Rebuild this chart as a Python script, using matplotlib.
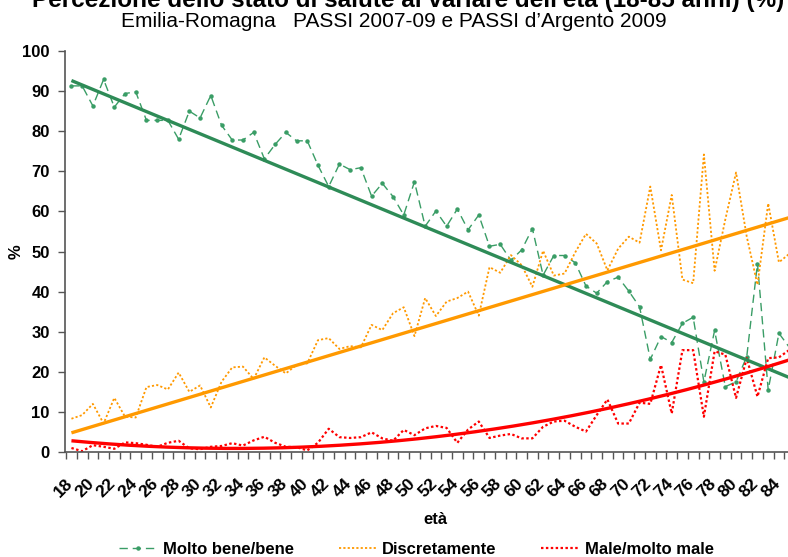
import numpy as np
import matplotlib
matplotlib.use("Agg")
import matplotlib.pyplot as plt

plt.rcParams['font.family'] = ['Liberation Sans', 'DejaVu Sans']

ages = list(range(18, 86))

molto_bene = [91.3, 91.3, 86.3, 92.9, 86.0, 89.4, 89.8, 82.7, 82.7, 82.7,
              78.0, 85.0, 83.3, 88.9, 81.5, 77.8, 77.8, 79.7, 73.1, 76.7,
              79.7, 77.6, 77.6, 71.5, 66.2, 71.8, 70.4, 70.9, 63.8, 67.0,
              63.7, 59.1, 67.4, 56.3, 60.1, 56.3, 60.6, 55.4, 59.1, 51.3,
              51.8, 47.8, 50.4, 55.7, 44.1, 49.0, 49.0, 47.2, 41.4, 39.6,
              42.5, 43.6, 40.1, 36.2, 23.1, 28.8, 27.3, 32.1, 33.6, 17.5,
              30.3, 16.3, 17.5, 23.8, 47.0, 15.5, 29.6, 26.0]

discretamente = [8.3, 9.2, 12.0, 7.1, 13.5, 8.8, 8.6, 16.2, 16.7, 15.6,
                 19.8, 15.0, 16.6, 11.1, 17.5, 21.1, 21.3, 18.2, 23.6, 21.5,
                 19.6, 21.7, 22.1, 27.9, 28.4, 25.7, 26.4, 26.1, 31.7, 30.4,
                 34.6, 36.1, 28.9, 38.4, 33.9, 37.5, 38.4, 40.0, 34.0, 46.1,
                 44.7, 49.1, 46.6, 41.2, 50.2, 44.0, 44.5, 49.8, 54.4, 52.0,
                 45.3, 50.7, 53.7, 52.2, 66.2, 50.3, 64.1, 43.0, 42.1, 74.2,
                 45.2, 58.0, 69.7, 53.7, 41.7, 62.0, 47.3, 49.5]

male = [1.0, 0.2, 1.7, 1.3, 0.8, 2.4, 2.2, 1.8, 1.3, 2.3,
        2.8, 0.9, 0.7, 1.3, 1.5, 2.2, 1.6, 2.9, 3.8, 2.3,
        1.3, 1.2, 0.4, 2.3, 5.8, 3.7, 3.5, 3.7, 4.9, 3.4,
        2.8, 5.5, 4.2, 5.9, 6.5, 6.0, 2.3, 5.6, 7.6, 3.5,
        4.1, 4.5, 3.4, 3.4, 6.3, 7.6, 7.8, 6.3, 5.1, 9.2,
        13.1, 7.1, 7.1, 12.3, 12.0, 21.7, 9.6, 25.4, 25.4, 8.8,
        25.1, 24.3, 13.5, 23.4, 13.8, 23.4, 23.6, 25.5]

# trend lines (values at ages 18, 51, 85)
trend_ages = [18, 51, 85]
trend_molto_bene = [92.6, 56.2, 18.5]
trend_discretamente = [4.8, 31.2, 58.5]
trend_male = [2.8, 3.5, 23.0]

series_names = ["Molto bene/bene", "Discretamente", "Male/molto male"]
tick_ages = list(range(18, 86, 2))
yticks = list(range(0, 101, 10))

title = "Percezione dello stato di salute al variare dell'età (18-85 anni) (%)"
subtitle = "Emilia-Romagna   PASSI 2007-09 e PASSI d\u2019Argento 2009"

W, H = 788, 557
fig = plt.figure(figsize=(W / 100, H / 100), dpi=100)
ax = fig.add_axes([65 / W, 1 - 452 / H, 730 / W, 401 / H])

x = np.array(ages, dtype=float)
g_col, g_trend = '#3a9d66', '#2e8b57'
o_col = '#ff9900'
r_col = '#ff0000'

lg, = ax.plot(x, molto_bene, color=g_col, lw=1.0, dashes=(6, 3.5),
              marker='o', ms=2.2, mec=g_col, mfc=g_col)
lo, = ax.plot(x, discretamente, color=o_col, lw=1.3, dashes=(1.2, 1.2))
lr, = ax.plot(x, male, color=r_col, lw=1.6, dashes=(1.1, 1.1))

xs = np.linspace(x[0], x[-1], 300)
pg = np.polyfit(trend_ages, trend_molto_bene, 1)
po = np.polyfit(trend_ages, trend_discretamente, 1)
pr = np.polyfit(trend_ages, trend_male, 2)
ax.plot(xs, np.polyval(pg, xs), color=g_trend, lw=2.4, solid_capstyle='butt')
ax.plot(xs, np.polyval(po, xs), color=o_col, lw=2.4, solid_capstyle='butt')
ax.plot(xs, np.polyval(pr, xs), color=r_col, lw=2.4, solid_capstyle='butt')

ax.set_xlim(17.5, 85.5)
ax.set_ylim(0, 100)
ax.set_yticks(yticks)
ax.set_yticklabels([str(v) for v in yticks], fontsize=12, fontweight='bold')
label_shift = 0.6
ax.set_xticks([a - label_shift for a in tick_ages])
ax.set_xticklabels([str(a) for a in tick_ages], fontsize=12.5, fontweight='bold',
                   rotation=45, ha='right', va='top', rotation_mode='anchor')
ax.set_xticks(np.arange(17.5, 86, 1.0), minor=True)
ax.tick_params(axis='x', which='major', length=0, pad=17)
ax.tick_params(axis='x', which='minor', length=5, width=1, color='#555555', direction='out')
ax.tick_params(axis='y', length=5, width=1, color='#555555', direction='out', pad=6)

for s in ['top', 'right']:
    ax.spines[s].set_visible(False)
for s in ['left', 'bottom']:
    ax.spines[s].set_color('#555555')
    ax.spines[s].set_linewidth(1.2)

ax.set_xlabel('età', fontsize=12, fontweight='bold')
ax.xaxis.set_label_coords(0.507, -0.150)
ax.set_ylabel('%', fontsize=12, fontweight='bold')
ax.yaxis.set_label_coords(-0.056, 0.5)

fig.text(0.518, 1 - 7 / H, title, ha='center', va='baseline', fontsize=17.5, fontweight='bold')
fig.text(0.500, 1 - 27 / H, subtitle, ha='center', va='baseline', fontsize=15)

fig.legend([lg, lo, lr], series_names, loc='lower center', bbox_to_anchor=(0.5286, -0.027),
           ncol=3, frameon=False, prop={'weight': 'bold', 'size': 12},
           handlelength=2.3, handletextpad=0.3, columnspacing=2.7)

fig.savefig('out.png', dpi=100)
